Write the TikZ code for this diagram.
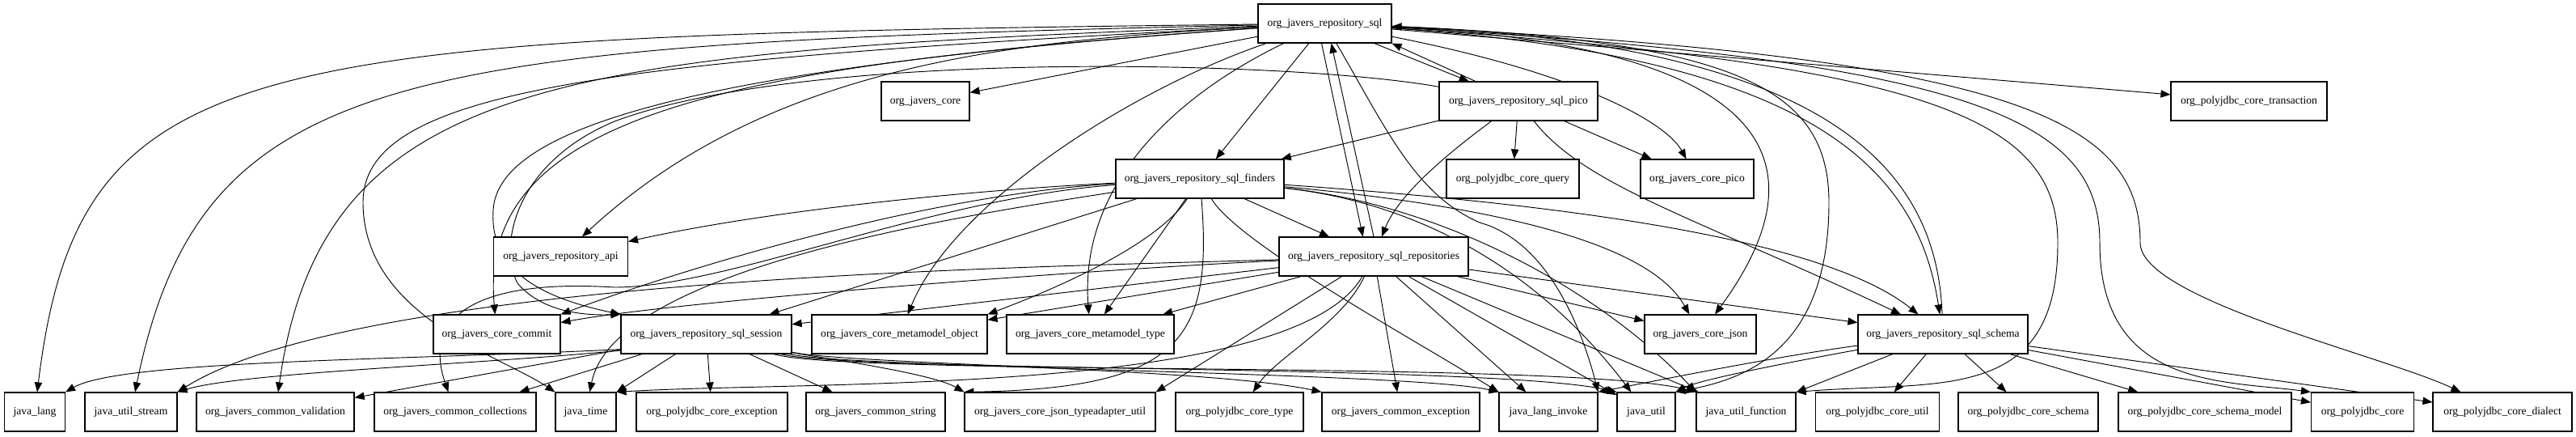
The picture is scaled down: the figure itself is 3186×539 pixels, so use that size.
\documentclass[tikz,border=0pt]{standalone}
\usepackage{fontspec}
\setmainfont{Liberation Serif}
\usepackage{tikz}
\usetikzlibrary{arrows.meta, backgrounds}

\begin{document}
\begin{tikzpicture}[
  x=0.75pt, y=-0.75pt,
  pkg/.style={rectangle, draw, line width=0.85pt, fill=white, minimum height=36pt, inner sep=1pt, align=center, font=\fontsize{10.2}{12}\selectfont},
  dep/.style={-{Triangle[length=9pt, width=7pt]}, line width=0.7pt}
]
\useasboundingbox (0,0) rectangle (3186,539);

\node[pkg, minimum width=123.75pt] (sql) at (1638.5,29) {org\_javers\_repository\_sql};

\node[pkg, minimum width=81.75pt] (core) at (1144.5,125) {org\_javers\_core};
\node[pkg, minimum width=147pt] (pico) at (1878,125) {org\_javers\_repository\_sql\_pico};
\node[pkg, minimum width=144.75pt] (trans) at (2781.5,125) {org\_polyjdbc\_core\_transaction};

\node[pkg, minimum width=156pt] (finders) at (1484,221) {org\_javers\_repository\_sql\_finders};
\node[pkg, minimum width=123pt] (query) at (1871,221) {org\_polyjdbc\_core\_query};
\node[pkg, minimum width=105pt] (cpico) at (2099,221) {org\_javers\_core\_pico};

\node[pkg, minimum width=124.5pt] (api) at (693.5,317) {org\_javers\_repository\_api};
\node[pkg, minimum width=175.5pt] (repos) at (1699,317) {org\_javers\_repository\_sql\_repositories};

\node[pkg, minimum width=117.75pt] (commit) at (614.5,413) {org\_javers\_core\_commit};
\node[pkg, minimum width=158.25pt] (session) at (873.5,413) {org\_javers\_repository\_sql\_session};
\node[pkg, minimum width=162.75pt] (mobj) at (1112.5,413) {org\_javers\_core\_metamodel\_object};
\node[pkg, minimum width=155.25pt] (mtype) at (1348.5,413) {org\_javers\_core\_metamodel\_type};
\node[pkg, minimum width=103.5pt] (cjson) at (2103,413) {org\_javers\_core\_json};
\node[pkg, minimum width=157.5pt] (schema) at (2403,413) {org\_javers\_repository\_sql\_schema};

\node[pkg, minimum width=56.25pt] (jlang) at (43,509) {java\_lang};
\node[pkg, minimum width=85.5pt] (jstream) at (162,509) {java\_util\_stream};
\node[pkg, minimum width=146.25pt] (valid) at (340.5,509) {org\_javers\_common\_validation};
\node[pkg, minimum width=150pt] (coll) at (563,509) {org\_javers\_common\_collections};
\node[pkg, minimum width=56.25pt] (jtime) at (724.5,509) {java\_time};
\node[pkg, minimum width=140.25pt] (pexc) at (880.5,509) {org\_polyjdbc\_core\_exception};
\node[pkg, minimum width=129pt] (cstr) at (1083,509) {org\_javers\_common\_string};
\node[pkg, minimum width=177pt] (tadapt) at (1311,509) {org\_javers\_core\_json\_typeadapter\_util};
\node[pkg, minimum width=118.5pt] (ptype) at (1533,509) {org\_polyjdbc\_core\_type};
\node[pkg, minimum width=146.25pt] (cexc) at (1732.5,509) {org\_javers\_common\_exception};
\node[pkg, minimum width=91.5pt] (jinv) at (1915,509) {java\_lang\_invoke};
\node[pkg, minimum width=54pt] (jutil) at (2036,509) {java\_util};
\node[pkg, minimum width=92.25pt] (jfunc) at (2159.5,509) {java\_util\_function};
\node[pkg, minimum width=114.75pt] (putil) at (2322,509) {org\_polyjdbc\_core\_util};
\node[pkg, minimum width=129.75pt] (pschema) at (2508.5,509) {org\_polyjdbc\_core\_schema};
\node[pkg, minimum width=160.5pt] (pmodel) at (2727,509) {org\_polyjdbc\_core\_schema\_model};
\node[pkg, minimum width=95.25pt] (pcore) at (2922,509) {org\_polyjdbc\_core};
\node[pkg, minimum width=129pt] (pdial) at (3095,509) {org\_polyjdbc\_core\_dialect};

\begin{scope}[on background layer]
\draw[dep] (sql) .. controls (300,45) and (98,60) .. (jlang);
\draw[dep] (sql) .. controls (500,55) and (250,80) .. (jstream);
\draw[dep] (sql) .. controls (700,65) and (400,90) .. (valid);
\draw[dep] (sql) .. controls (750,75) and (449,110) .. (449,250) .. controls (449,390) and (620,440) .. (jtime.north west);
\draw[dep] (sql) .. controls (900,80) and (590,140) .. (commit);
\draw[dep] (sql) .. controls (900,80) and (615,150) .. (610,260) .. controls (605,340) and (680,370) .. (session.north west);
\draw[dep] (sql) .. controls (1250,50) and (950,80) .. (api);
\draw[dep] (sql) -- (core);
\draw[dep] (sql) -- (finders);
\draw[dep] (sql) .. controls (1400,110) and (1180,250) .. (mobj);
\draw[dep] (sql) .. controls (1450,120) and (1335,230) .. (mtype);
\draw[dep] ([xshift=-3pt]sql.south) -- ([xshift=-10pt]repos.north);
\draw[dep] (repos.north) -- ([xshift=6pt]sql.south);
\draw[dep] (sql) -- (pico);
\draw[dep] ([xshift=34pt]pico.north west) -- (sql.south east);
\draw[dep] (sql) .. controls (1950,90) and (2060,150) .. (cpico);
\draw[dep] (sql) .. controls (2260,60) and (2230,240) .. (cjson);
\draw[dep] (sql) .. controls (1715,160) and (1750,240) .. (1830,275) .. controls (1920,300) and (1960,420) .. (jinv.north east);
\draw[dep] (sql) .. controls (2150,50) and (2262,110) .. (2262,250) .. controls (2262,440) and (2150,470) .. (jutil.north east);
\draw[dep] (sql) .. controls (2400,80) and (2545,150) .. (2545,300) .. controls (2545,500) and (2400,470) .. (jfunc.north east);
\draw[dep] (sql) .. controls (2450,75) and (2597,150) .. (2597,300) .. controls (2597,480) and (2750,470) .. (pcore.north west);
\draw[dep] (sql) .. controls (2500,70) and (2647,150) .. (2647,300) .. controls (2647,370) and (2950,440) .. (pdial);
\draw[dep] (sql) -- (trans);
\draw[dep] (sql) .. controls (2230,70) and (2370,200) .. (schema);
\draw[dep] (schema) .. controls (2395,200) and (2250,55) .. (sql);

\draw[dep] (pico) -- (finders);
\draw[dep] (pico) .. controls (1790,190) and (1730,240) .. (repos);
\draw[dep] (pico) -- (query);
\draw[dep] (pico) -- (cpico);
\draw[dep] (pico) .. controls (1960,230) and (2100,270) .. (schema);
\draw[dep] (pico) .. controls (1600,75) and (1000,60) .. (760,150) .. controls (640,200) and (615,300) .. (640,350) .. controls (670,385) and (720,390) .. (session.north west);

\draw[dep] (finders) .. controls (1200,235) and (950,260) .. (api);
\draw[dep] (finders) .. controls (1150,240) and (850,330) .. (commit.north east);
\draw[dep] (finders) .. controls (1150,245) and (900,355) .. (760,355) .. controls (600,345) and (520,385) .. (coll);
\draw[dep] (finders) .. controls (1200,265) and (760,330) .. (jtime);
\draw[dep] (finders) -- (session);
\draw[dep] (finders) -- (repos);
\draw[dep] (finders) .. controls (1440,290) and (1350,340) .. (mobj.north east);
\draw[dep] (finders) -- (mtype);
\draw[dep] (finders) .. controls (1500,420) and (1460,480) .. (tadapt.north west);
\draw[dep] (finders) .. controls (1530,300) and (1750,420) .. (jinv.north west);
\draw[dep] (finders) .. controls (1850,255) and (2040,300) .. (cjson);
\draw[dep] (finders) .. controls (1900,250) and (2250,290) .. (schema);
\draw[dep] (finders) .. controls (1750,250) and (1900,330) .. (jutil);
\draw[dep] (finders) .. controls (1800,255) and (1990,370) .. (jfunc.north west);

\draw[dep] (repos) -- (session);
\draw[dep] (repos) .. controls (1400,330) and (850,370) .. (commit);
\draw[dep] (repos) -- (mobj);
\draw[dep] (repos) -- (mtype);
\draw[dep] (repos) -- (cjson);
\draw[dep] (repos) -- (schema);
\draw[dep] (repos) .. controls (1300,330) and (450,340) .. (jstream.north east);
\draw[dep] (repos) .. controls (1600,490) and (1000,470) .. (jtime.north east);
\draw[dep] (repos) -- (tadapt.north east);
\draw[dep] (repos) .. controls (1660,400) and (1580,440) .. (ptype);
\draw[dep] (repos) -- (cexc);
\draw[dep] (repos) -- (jinv);
\draw[dep] (repos) -- (jutil);
\draw[dep] (repos) -- (jfunc);

\draw[dep] ([yshift=-14pt]session.west) .. controls (500,445) and (150,445) .. (jlang.north east);
\draw[dep] ([yshift=-15pt]session.west) .. controls (600,450) and (300,460) .. (jstream.north east);
\draw[dep] (session) -- (valid);
\draw[dep] (session) -- (coll);
\draw[dep] (session) -- (jtime);
\draw[dep] (session) -- (pexc);
\draw[dep] (session) -- (cstr);
\draw[dep] (session) .. controls (1000,440) and (1150,460) .. (tadapt.north west);
\draw[dep] (session) .. controls (1050,450) and (1500,455) .. (cexc.north west);
\draw[dep] (session) .. controls (1050,455) and (1750,460) .. (jinv.north west);
\draw[dep] (session) .. controls (1050,460) and (1850,450) .. (jutil.north west);
\draw[dep] (session) .. controls (1050,465) and (1950,445) .. (jfunc.north west);

\draw[dep] (schema) .. controls (2200,440) and (2050,470) .. (jinv.north east);
\draw[dep] (schema) .. controls (2200,450) and (2100,470) .. (jutil.north east);
\draw[dep] (schema) -- (jfunc);
\draw[dep] (schema) -- (putil);
\draw[dep] (schema) -- (pschema);
\draw[dep] (schema) -- (pmodel);
\draw[dep] (schema) -- (pcore);
\draw[dep] (schema) -- (pdial);
\end{scope}
\end{tikzpicture}
\end{document}
